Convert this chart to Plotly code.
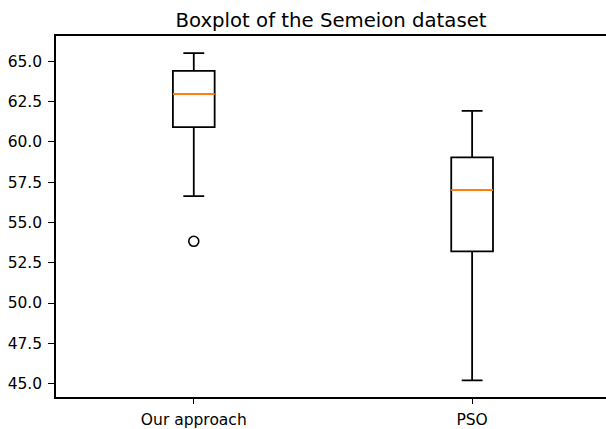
import plotly.graph_objects as go

categories = ["Our approach", "PSO"]
positions = [1, 2]
q1 = [60.91, 53.21]
median = [62.97, 57.02]
q3 = [64.40, 59.04]
lower_whisker = [56.63, 45.20]
upper_whisker = [65.51, 61.92]
outliers = [[53.83], []]
y_ticks = [45.0, 47.5, 50.0, 52.5, 55.0, 57.5, 60.0, 62.5, 65.0]

box_width = 0.15
font = "DejaVu Sans"

fig = go.Figure()
for i, pos in enumerate(positions):
    fig.add_trace(go.Box(
        x=[pos], q1=[q1[i]], median=[median[i]], q3=[q3[i]],
        lowerfence=[lower_whisker[i]], upperfence=[upper_whisker[i]],
        width=box_width, whiskerwidth=0.5,
        line=dict(color="black", width=1.8),
        fillcolor="rgba(255,255,255,0)",
        boxpoints=False, showlegend=False, hoverinfo="skip",
    ))
    fig.add_trace(go.Scatter(
        x=[pos - box_width / 2, pos + box_width / 2], y=[median[i], median[i]],
        mode="lines", line=dict(color="#ff7f0e", width=2),
        showlegend=False, hoverinfo="skip",
    ))
    if outliers[i]:
        fig.add_trace(go.Scatter(
            x=[pos] * len(outliers[i]), y=outliers[i], mode="markers",
            marker=dict(symbol="circle-open", size=10, color="black",
                        line=dict(width=1.6, color="black")),
            showlegend=False, hoverinfo="skip",
        ))

fig.update_layout(
    width=606, height=429,
    margin=dict(l=56, r=0, t=36, b=32, autoexpand=False),
    paper_bgcolor="white", plot_bgcolor="white",
    font=dict(family=font, size=15.5, color="black"),
    title=dict(text="Boxplot of the Semeion dataset", x=0.5, xref="paper",
               xanchor="center", y=(429 - 20.5) / 429, yref="container",
               yanchor="middle", font=dict(family=font, size=19.7, color="black")),
)
fig.update_xaxes(
    range=[0.505, 2.481], tickmode="array", tickvals=positions, ticktext=categories,
    showgrid=False, zeroline=False, showline=True, linecolor="black", linewidth=1.5,
    mirror=True, ticks="outside", ticklen=5, tickwidth=1.4, tickcolor="black",
    ticklabelstandoff=3,
    tickfont=dict(family=font, size=15.5, color="black"),
)
fig.update_yaxes(
    range=[44.17, 66.57], tickmode="array", tickvals=y_ticks,
    ticktext=[f"{v:.1f}" for v in y_ticks],
    showgrid=False, zeroline=False, showline=True, linecolor="black", linewidth=1.5,
    mirror=False, ticks="outside", ticklen=6, tickwidth=1.4, tickcolor="black",
    ticklabelstandoff=3,
    tickfont=dict(family=font, size=15.5, color="black"),
)

fig.write_html(
    "out.html",
    config={"displayModeBar": False},
    post_script="document.body.style.margin='0';document.body.style.overflow='hidden';",
)
